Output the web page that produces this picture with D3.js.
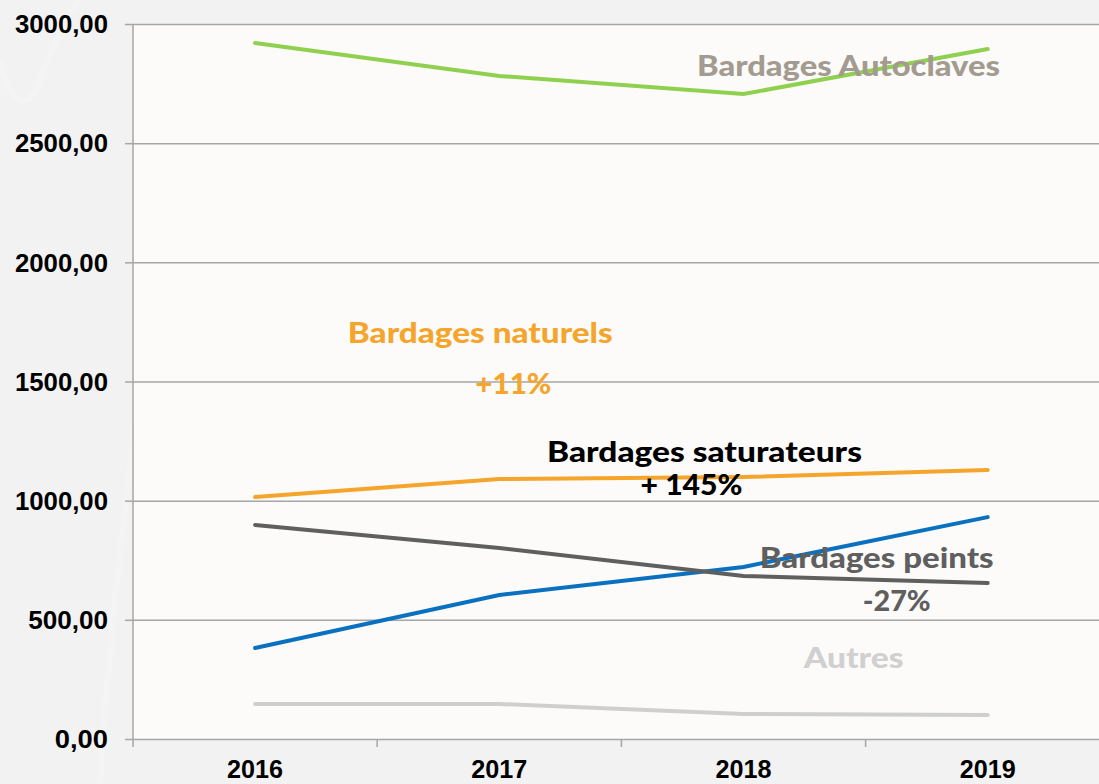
<!DOCTYPE html>
<html><head><meta charset="utf-8">
<script src="https://cdn.jsdelivr.net/npm/d3@7"></script>
<style>
html,body{margin:0;padding:0;background:#f2f2f2;}
svg{display:block;font-family:"Lato","Open Sans",sans-serif;font-weight:700;}
</style></head>
<body><svg id="c" width="1099" height="784"></svg>
<script>
const years = ["2016","2017","2018","2019"];
const yTicks = [0,500,1000,1500,2000,2500,3000];
const autoclaves = [2920,2782,2706,2895];
const naturels = [1015,1091,1099,1129];
const saturateurs = [382,604,722,931];
const peints = [898,801,684,655];
const autres = [147,147,105,101];
const seriesNames = ["Bardages Autoclaves","Bardages naturels","Bardages saturateurs","Bardages peints","Autres"];
const seriesValues = [autoclaves,naturels,saturateurs,peints,autres];
const seriesColors = ["#8fd14f","#f5a52b","#0a70c0","#5f5f5f","#cfcfcf"];
const labels = [
  {t:"Bardages Autoclaves", c:"#a39b90", x:"2018", dx:105, v:2780, w:303},
  {t:"Bardages naturels", c:"#f5a52b", x:"2017", dx:-19, v:1660, w:265},
  {t:"+11%", c:"#f5a52b", x:"2017", dx:14, v:1447, w:76},
  {t:"Bardages saturateurs", c:"#000000", x:"2018", dx:-39, v:1162, w:315},
  {t:"+ 145%", c:"#000000", x:"2018", dx:-52, v:1024, w:102},
  {t:"Bardages peints", c:"#5f5f5f", x:"2019", dx:-111, v:717, w:234},
  {t:"-27%", c:"#5f5f5f", x:"2019", dx:-91, v:536, w:68},
  {t:"Autres", c:"#d0d0d0", x:"2019", dx:-134, v:298, w:100}
];

const svg = d3.select("#c");
const W = 1099, H = 784;
const mLeft = 133, mTop = 24, mBottom = 739;
const x = d3.scaleBand().domain(years).range([mLeft, mLeft + 4*244.2]);
const y = d3.scaleLinear().domain([0,3000]).range([mBottom, mTop]);

// background decoration
const deco = svg.append("g").attr("fill","none").attr("stroke","#f4f4f4").attr("stroke-width",6);
deco.append("path").attr("d","M0,60 C10,110 30,110 40,80 C55,40 70,10 80,0");
deco.append("path").attr("d","M100,784 C110,600 140,400 150,300");

svg.append("rect").attr("x",mLeft).attr("y",mTop).attr("width",W-mLeft).attr("height",mBottom-mTop).attr("fill","#fcfbfa");

// gridlines + y axis
const yAxis = d3.axisLeft(y).tickValues(yTicks).tickSize(8).tickPadding(17)
  .tickFormat(d => d3.format(".2f")(d).replace(".",","));
const gy = svg.append("g").attr("transform",`translate(${mLeft},0)`).call(yAxis);
gy.select(".domain").attr("stroke","#a6a6a6").attr("stroke-width",1.5).attr("d",`M0,${mTop}V${mBottom+8}`);
gy.selectAll(".tick line").attr("stroke","#a6a6a6").attr("stroke-width",1.5);
gy.selectAll(".tick").append("line").attr("x1",0).attr("x2",W-mLeft).attr("stroke","#a6a6a6").attr("stroke-width",1.5);
gy.selectAll(".tick text").attr("fill","#000").attr("font-size",25).attr("font-weight",900).attr("dy","0.35em")
  .attr("textLength",function(){return this.textContent.length*13.3;}).attr("lengthAdjust","spacingAndGlyphs");

// x axis
const xAxis = d3.axisBottom(x).tickSize(0).tickPadding(21);
const gx = svg.append("g").attr("transform",`translate(0,${mBottom})`).call(xAxis);
gx.select(".domain").remove();
gx.selectAll(".tick text").attr("fill","#000").attr("font-size",25).attr("font-weight",900)
  .attr("textLength",56).attr("lengthAdjust","spacingAndGlyphs");
gx.selectAll(".sep").data(years.slice(1)).enter().append("line")
  .attr("x1",d=>x(d)).attr("x2",d=>x(d)).attr("y1",0).attr("y2",8)
  .attr("stroke","#a6a6a6").attr("stroke-width",1.5);

// lines
const line = d3.line().x((d,i)=>x(years[i])+x.bandwidth()/2).y(d=>y(d));
seriesValues.forEach((vals,i)=>{
  svg.append("path").datum(vals).attr("d",line).attr("fill","none")
    .attr("stroke",seriesColors[i]).attr("stroke-width",4).attr("stroke-linecap","round");
});

// labels
svg.selectAll(".lbl").data(labels).enter().append("text")
  .attr("x",d=>x(d.x)+x.bandwidth()/2+d.dx).attr("y",d=>y(d.v))
  .attr("text-anchor","middle").attr("fill",d=>d.c).attr("font-size",29).attr("font-weight",900)
  .attr("textLength",d=>d.w).attr("lengthAdjust","spacingAndGlyphs")
  .text(d=>d.t);
</script></body></html>
